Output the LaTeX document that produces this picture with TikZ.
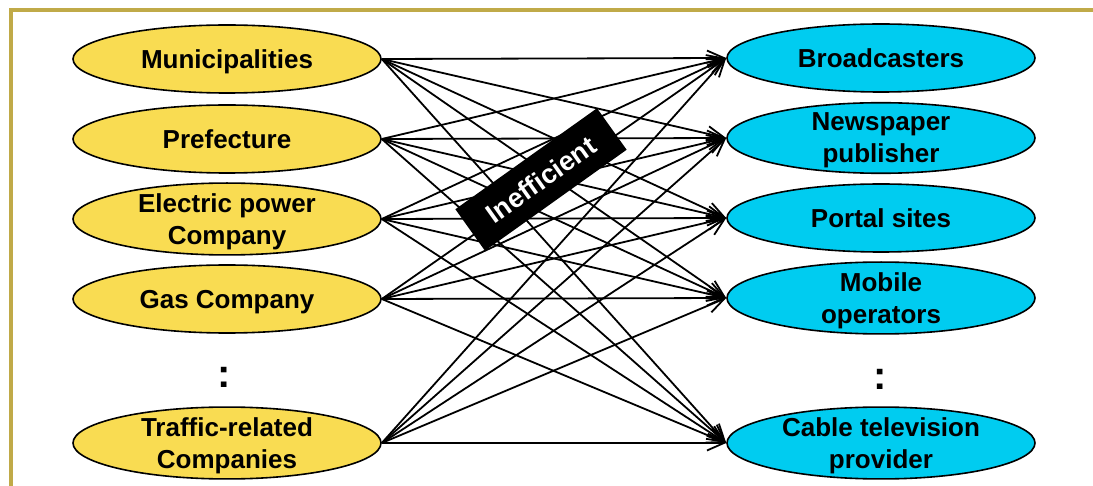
\documentclass[tikz,border=0pt]{standalone}
\usepackage{fontspec}
\setmainfont{Liberation Sans}
\usetikzlibrary{shapes.geometric,arrows.meta}

\definecolor{frameGold}{RGB}{192,170,72}
\definecolor{srcYellow}{RGB}{249,220,82}
\definecolor{dstCyan}{RGB}{0,204,240}

\tikzset{
  src/.style={ellipse, draw, line width=1.6pt, fill=srcYellow,
    minimum width=308pt, minimum height=68pt, inner sep=0pt, text depth=0pt,
    align=center, font=\bfseries\fontsize{26}{32}\selectfont},
  dst/.style={src, fill=dstCyan},
  dots/.style={font=\bfseries\fontsize{40}{42}\selectfont, inner sep=0pt},
  link/.style={line width=1.8pt, -{Straight Barb[length=17pt,width=15pt]}}
}

\begin{document}
\begin{tikzpicture}[x=1pt,y=-1pt]
\useasboundingbox (0,0) rectangle (1093,486);

% draw the frame
\draw[frameGold, line width=4pt] (11,486) -- (11,10.5) -- (1093,10.5);

% draw the sources on the left
\node[src] (muni) at (227,59) {Municipalities};
\node[src] (pref) at (227,139) {Prefecture};
\node[src] (elec) at (227,219) {Electric power\\Company};
\node[src] (gas) at (227,299) {Gas Company};
\node[dots] (srcdots) at (224,377) {:};
\node[src] (traf) at (227,443) {Traffic-related\\Companies};

% draw the targets on the right
\node[dst] (broad) at (881,58) {Broadcasters};
\node[dst] (news) at (881,138) {Newspaper\\publisher};
\node[dst] (portal) at (881,218) {Portal sites};
\node[dst] (mobile) at (881,298) {Mobile\\operators};
\node[dots] (dstdots) at (880,379) {:};
\node[dst] (cable) at (881,443) {Cable television\\provider};

% draw every link from left to right
\foreach \s in {muni,pref,elec,gas,traf}
  \foreach \d in {broad,news,portal,mobile,cable}
    \draw[link] (\s.east) -- (\d.west);

% draw the label across the links
\node[fill=black, text=white, rotate=35.5, minimum width=174pt, minimum height=51pt,
  inner sep=0pt, font=\bfseries\fontsize{27}{30}\selectfont] (ineff) at (541,179.5) {Inefficient};

\end{tikzpicture}
\end{document}
